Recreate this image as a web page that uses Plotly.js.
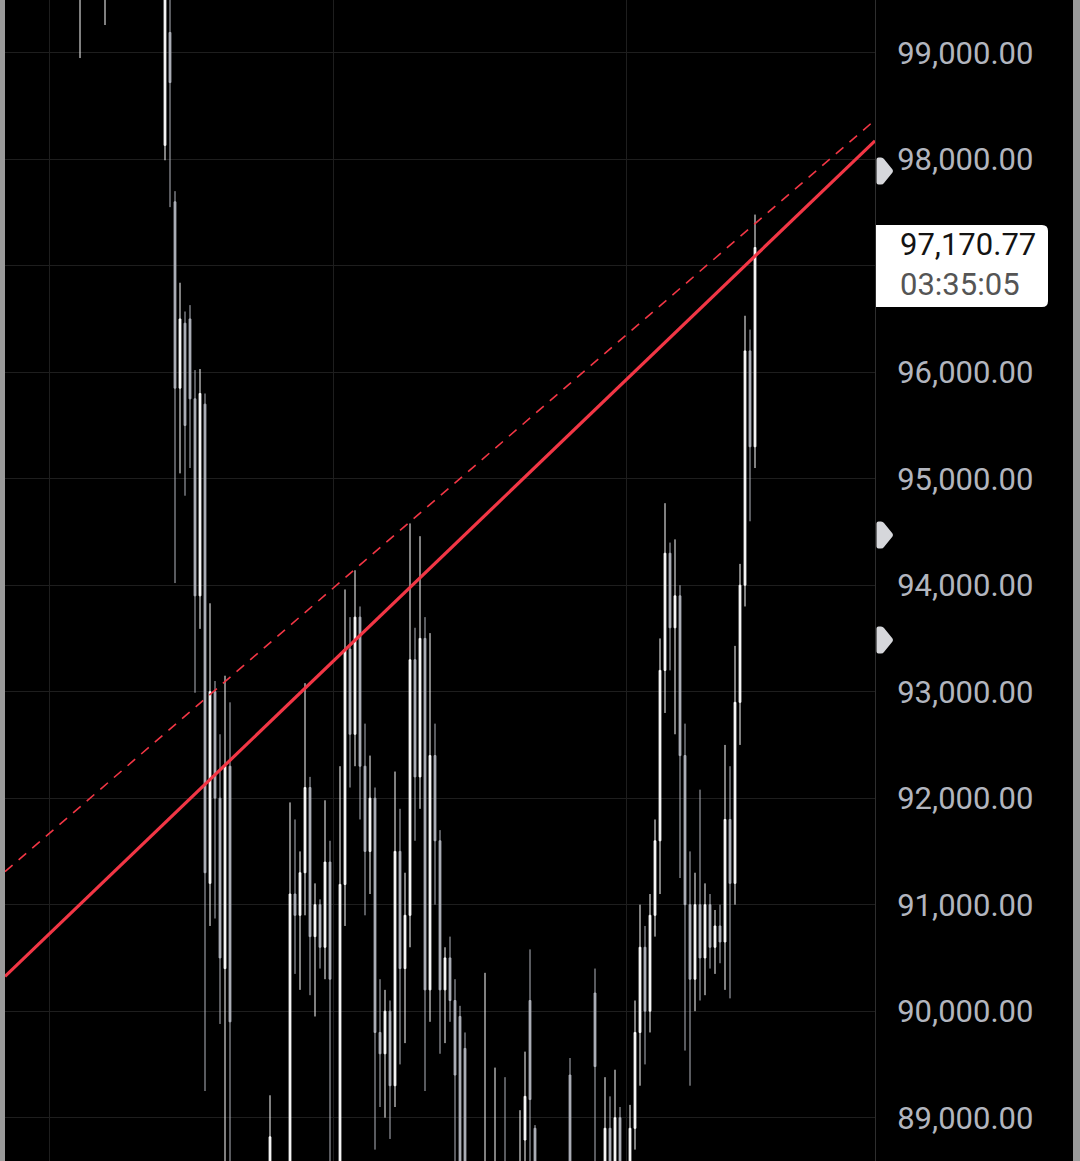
<!DOCTYPE html>
<html>
<head>
<meta charset="utf-8">
<script src="https://cdn.plot.ly/plotly-3.0.1.min.js"></script>
<style>
  html, body { margin: 0; padding: 0; background: #9a9a9a; width: 1080px; height: 1161px; overflow: hidden; }
  #chart { position: absolute; left: 5px; top: 0; width: 1068px; height: 1161px; background: #000; }
</style>
</head>
<body>
<div id="chart"></div>
<script>
// OHLC candles (values above ~99,500 / below ~88,600 are off-screen estimates)
const openVals = [100400,100250,100100,100300,100550,100420,100150,100000,99880,100120,
  100380,100200,99950,99780,99900,99700,99820,100050,100300,100150,
  99900,99980,100250,100480,100350,100080,100200,100100,99850,99950,
  99760,99820,98130,99190,97600,95850,96460,96500,95750,93900,
  95700,91200,93000,92000,90400,92300,88400,88000,87800,88100,
  88250,88050,87750,87950,88450,88200,88350,88400,91100,90900,
  91300,92100,90700,91000,90600,91400,88400,88300,91190,93400,
  92600,93700,92300,91500,92000,89800,89600,90000,89300,91500,
  90400,90900,93300,92200,93500,90200,92400,91600,90200,90500,
  90100,89950,89650,88300,88000,88200,88300,88450,88100,88500,
  88500,88200,87900,88200,88790,90100,88900,88400,88000,88250,
  88100,87900,88200,89400,88400,88100,87950,88200,90170,88400,
  88400,88900,88500,89000,88300,88400,88900,89800,90600,90000,
  90900,91600,93200,94300,93600,93900,92400,91000,90300,91000,
  90500,91000,90600,90800,90650,91800,91200,92900,94000,96200,
  95300];
const highVals = [100650,100500,100380,100700,100800,100600,100400,100250,100200,100500,
  100600,100350,100150,100050,100100,99950,100200,100400,100500,100300,
  100100,100350,100600,100700,100500,100300,100450,100250,100050,100150,
  99950,100000,99800,99650,97700,96840,96570,96630,96020,96030,
  95800,93830,93100,92600,93150,92900,88550,88300,88200,88450,
  88500,88300,88100,89210,88550,88500,88550,91960,91800,91500,
  93080,92200,91200,91050,91980,91600,88550,92300,93960,93700,
  94140,93800,92700,92400,92100,90300,90200,90100,92250,91900,
  91300,94580,93600,94460,93700,93550,92700,91700,90600,90700,
  90300,90050,89800,88500,88400,88500,90360,88550,89470,88550,
  89380,88500,88300,89070,89620,90580,88930,88550,88400,88500,
  88450,88300,88550,89560,88550,88400,88350,88500,90400,88550,
  89380,89200,89450,89100,88500,89120,90100,91000,90800,91100,
  91800,93500,94770,94400,94430,94000,92700,91500,91300,92080,
  91200,91100,90950,91000,92500,92300,93430,94200,96530,96400,
  97480];
const lowVals = [100150,99980,99900,100200,100300,100050,99850,99700,99720,100000,
  100100,99800,99650,99620,99600,98950,99700,99900,100000,99750,
  99260,99850,100100,100200,99950,99800,99980,99700,99600,99700,
  99580,99620,97990,97550,94020,95050,94840,95100,92990,93590,
  89250,90800,90870,89880,88300,88200,87700,87500,87400,87800,
  87900,87600,87500,87700,87800,87900,88000,88200,90350,90200,
  90900,90150,89950,90400,90300,88300,87900,88100,90800,92100,
  92300,91800,90900,91100,88700,89100,89000,88800,89100,89500,
  89700,90600,91600,91900,89250,89900,91000,89600,89700,89900,
  88300,88100,88000,87800,87700,87900,88000,87900,87900,87800,
  87800,87700,87600,88000,88400,88200,88000,87800,87600,87900,
  87700,87600,87900,88100,87900,87700,87600,87900,88100,87900,
  88000,88100,88000,88000,87900,88100,88700,89300,89500,89800,
  90700,91100,92800,93200,92600,91250,89630,89300,90000,90100,
  90150,90400,90350,90450,90200,90120,91000,92500,93800,94600,
  95100];
const closeVals = [100250,100100,100300,100550,100420,100150,100000,99880,100120,100380,
  100200,99950,99780,99900,99700,99820,100050,100300,100150,99900,
  99980,100250,100480,100350,100080,100200,100100,99850,99950,99760,
  99820,99700,99650,98720,95850,96500,95500,95750,93900,95800,
  91300,93000,92000,90500,92300,89900,88000,87800,88100,88250,
  88050,87750,87950,88820,88200,88350,88400,91100,90900,91300,
  92100,90700,91000,90600,91400,90300,88200,91190,93400,92600,
  93700,92300,91500,92000,89800,89600,90000,89300,91500,90400,
  90900,93300,92200,93500,90200,92400,91600,90200,90500,90100,
  89400,88500,88300,88000,88200,88300,88450,88100,88500,88000,
  88200,87900,88200,88550,89200,89170,88400,88000,88250,88100,
  87900,88200,88400,88400,88100,87950,88200,88350,89480,88200,
  88900,88500,89000,88300,88400,88900,89800,90600,90000,90900,
  91600,93200,94300,93600,93900,92400,91000,90300,91000,90500,
  91000,90600,90800,90650,91800,91200,92900,94000,96200,95300,
  97170.77];

// trend lines (start / end values at the left and right edge of the view)
const trendEdges = [0, 174];
const solidTrend = [90326, 98173];
const dashedTrend = [91310, 98368];

// right-edge alert markers (price levels)
const alertLevels = [97889, 94471, 93485];

// last price label
const lastPriceText = '97,170.77';
const countdownText = '03:35:05';

// axis grid levels; the 97,000 label is covered by the last-price label in the reference
const yTicks = [89000, 90000, 91000, 92000, 93000, 94000, 95000, 96000, 97000, 98000, 99000];
const hiddenTick = 97000;

const fmt = (v) => v.toLocaleString('en-US', { minimumFractionDigits: 2, maximumFractionDigits: 2 });
const yTickText = yTicks.map(v => (v === hiddenTick ? '' : fmt(v)));

const xIdx = openVals.map((_, i) => i);

const traces = [
  {
    type: 'candlestick',
    x: xIdx, open: openVals, high: highVals, low: lowVals, close: closeVals,
    increasing: { line: { color: '#ffffff', width: 1 }, fillcolor: '#ffffff' },
    decreasing: { line: { color: '#b2b5be', width: 1 }, fillcolor: '#b2b5be' },
    whiskerwidth: 0,
    hoverinfo: 'skip',
    showlegend: false
  },
  {
    type: 'scatter', mode: 'lines', x: trendEdges, y: dashedTrend,
    line: { color: '#f23645', width: 1.6, dash: '10px,8px' },
    hoverinfo: 'skip', showlegend: false
  },
  {
    type: 'scatter', mode: 'lines', x: trendEdges, y: solidTrend,
    line: { color: '#f23645', width: 3.2 },
    hoverinfo: 'skip', showlegend: false
  }
];

const W = 870, H = 1161;
const px = (x) => (x - 5) / W;
const py = (y) => 1 - y / H;
const rx = 6 / W, ry = 6 / H;
const bx0 = px(876), bx1 = px(1048), by0 = py(225), by1 = py(307);
const boxPath = `M ${bx0},${by0} L ${bx1 - rx},${by0} Q ${bx1},${by0} ${bx1},${by0 - ry} ` +
  `L ${bx1},${by1 + ry} Q ${bx1},${by1} ${bx1 - rx},${by1} L ${bx0},${by1} Z`;

// arrow-tag shape in pixels, anchored at the plot's right edge and at each alert level
const tagPath = 'M 1.5,-11.5 Q 1.5,-13.5 3.5,-13.5 L 6,-13.5 Q 8,-13.5 9,-12 L 17.5,-1.5 Q 18.5,0 17.5,1.5 ' +
  'L 9,12 Q 8,13.5 6,13.5 L 3.5,13.5 Q 1.5,13.5 1.5,11.5 Z';
const tagShapes = alertLevels.map(v => ({
  type: 'path', xref: 'paper', yref: 'y',
  xsizemode: 'pixel', ysizemode: 'pixel', xanchor: 1, yanchor: v,
  path: tagPath, fillcolor: '#d6d7db', line: { width: 0 }, layer: 'above'
}));

const layout = {
  width: 1068, height: 1161,
  margin: { l: 0, r: 198, t: 0, b: 0, pad: 0 },
  paper_bgcolor: '#000000', plot_bgcolor: '#000000',
  font: { family: 'Roboto, "Noto Sans", sans-serif', color: '#b2b5be' },
  showlegend: false,
  boxgap: 0.5,
  xaxis: {
    range: [0, 174], showticklabels: false, ticks: '',
    tickvals: [8.86, 65.66, 124.2],
    showgrid: true, gridcolor: '#1e1e1e', gridwidth: 1,
    zeroline: false, showline: false, fixedrange: true,
    rangeslider: { visible: false }
  },
  yaxis: {
    side: 'right', range: [88593, 99495],
    tickmode: 'array', tickvals: yTicks, ticktext: yTickText,
    tickfont: { size: 31, color: '#b2b5be', family: 'Roboto' },
    ticks: '', ticklabelstandoff: 15,
    showgrid: true, gridcolor: '#1e1e1e', gridwidth: 1,
    zeroline: false, showline: true, linecolor: '#2e2e2e', linewidth: 1,
    fixedrange: true
  },
  shapes: [
    { type: 'path', xref: 'paper', yref: 'paper', path: boxPath,
      fillcolor: '#ffffff', line: { width: 0 }, layer: 'above' }
  ].concat(tagShapes),
  annotations: [
    { xref: 'paper', yref: 'paper', x: px(898), y: py(264), xanchor: 'left', yanchor: 'middle',
      align: 'left',
      text: lastPriceText + '<br><span style="color:#555555">' + countdownText + '</span>',
      showarrow: false, font: { size: 31, color: '#131313', family: 'Roboto' } }
  ]
};

Plotly.newPlot('chart', traces, layout, { staticPlot: true, displayModeBar: false });
</script>
</body>
</html>
